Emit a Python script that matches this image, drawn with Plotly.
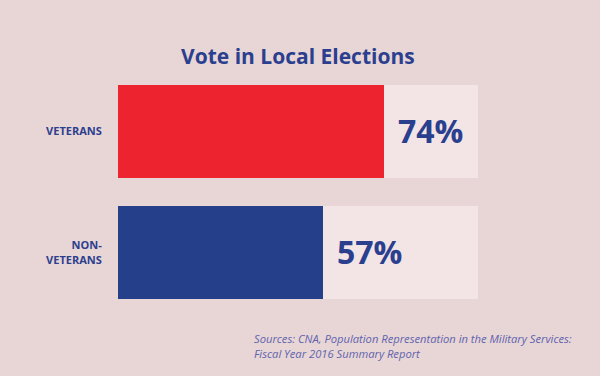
import plotly.graph_objects as go

categories = ["VETERANS", "NON-VETERANS"]
tick_labels = ["VETERANS", "NON-<br>VETERANS"]
values = [74, 57]
full = [100, 100]
bar_colors = ["#ed2330", "#253f8a"]
title = "Vote in Local Elections"
source = "Sources: CNA, Population Representation in the Military Services:<br>Fiscal Year 2016 Summary Report"

BG = "#e8d5d6"
TRACK = "#f3e5e6"
NAVY = "#2b3f8f"

ypos = list(range(len(categories)))

fig = go.Figure()
fig.add_trace(go.Bar(x=full, y=ypos, orientation="h", marker=dict(color=TRACK, line=dict(width=0)),
                     width=0.765, hoverinfo="skip", showlegend=False))
fig.add_trace(go.Bar(x=values, y=ypos, orientation="h", marker=dict(color=bar_colors, line=dict(width=0)),
                     width=0.765, showlegend=False))

for yv, v in zip(ypos, values):
    fig.add_annotation(x=v, y=yv, xref="x", yref="y", text=f"{v}%", showarrow=False,
                       xanchor="left", yanchor="middle", xshift=12, yshift=1,
                       font=dict(family="Open Sans", size=32, color=NAVY, weight="bold"))

fig.add_annotation(x=0.5, y=1, xref="paper", yref="paper", yanchor="bottom", yshift=13,
                   text=f"<b>{title}</b>", showarrow=False,
                   font=dict(family="Open Sans", size=21, color=NAVY))
fig.add_annotation(x=(252 - 118) / 360, y=-(346 - 299) / 214, xref="paper", yref="paper", text=source,
                   showarrow=False,
                   font=dict(family="Open Sans", size=11.2, color="#5e64ad", style="italic"),
                   xanchor="left", yanchor="middle", align="left")

fig.update_layout(
    width=600, height=376,
    paper_bgcolor=BG, plot_bgcolor=BG,
    margin=dict(l=118, r=122, t=85, b=77),
    barmode="overlay",
    bargap=0,
    xaxis=dict(range=[0, 100], visible=False, fixedrange=True),
    yaxis=dict(range=[1.383, -0.383], tickmode="array", tickvals=ypos, ticktext=[f"<b>{t}</b>" for t in tick_labels],
               showgrid=False, zeroline=False, showline=False, ticks="outside", ticklen=13,
               tickcolor="rgba(0,0,0,0)", tickfont=dict(family="Open Sans", size=11, color=NAVY)),
    font=dict(family="Open Sans"),
)

fig.write_html("out.html", config={"displayModeBar": False},
               post_script="document.body.style.margin='0';document.body.style.background='%s';" % BG)
